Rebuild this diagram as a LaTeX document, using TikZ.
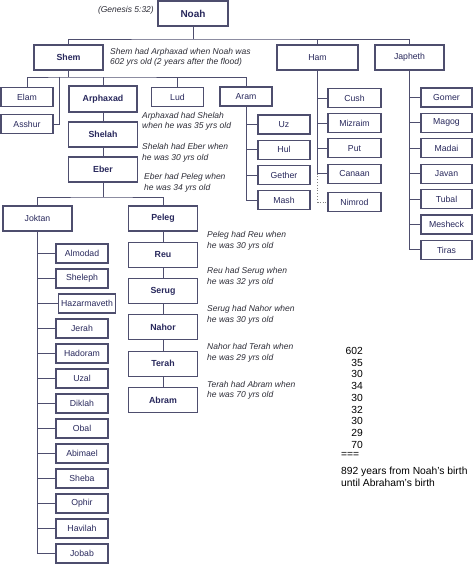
\documentclass[tikz,border=0pt]{standalone}
\usepackage{fontspec}
\setmainfont{Liberation Sans}
\usetikzlibrary{positioning}
\definecolor{edgec}{RGB}{78,78,110}
\definecolor{namec}{RGB}{40,40,92}
\definecolor{notec}{RGB}{45,45,55}

\begin{document}
\begin{tikzpicture}[
    x=1pt, y=1pt,
    node distance=11.3pt and 9pt,
    box/.style={draw=edgec, line width=1.1pt, fill=white, rectangle, outer sep=0pt, inner xsep=2pt, inner ysep=0pt, text=namec, font=\fontsize{8.7}{10}\selectfont},
    heir/.style={box, minimum width=69pt, minimum height=25pt, font=\bfseries\fontsize{8.8}{10}\selectfont},
    son/.style={box, minimum width=69pt, minimum height=25pt},
    kid/.style={box, minimum width=52pt, minimum height=19pt},
    link/.style={draw=edgec, line width=0.9pt},
    note/.style={anchor=west, align=left, inner sep=1pt, text=notec, font=\itshape\fontsize{8.5}{10.5}\selectfont},
    sum/.style={inner sep=0pt, text=black, font=\fontsize{10.3}{11.75}\selectfont}
]
\useasboundingbox (0,0) rectangle (474,-564);

% Noah and his three sons
\node[heir, minimum width=70pt, font=\bfseries\fontsize{10}{12}\selectfont] (noah) at (193,-13.5) {Noah};
\node[note, anchor=east] (gen) at (155,-10) {(Genesis 5:32)};
\node[heir] (shem) at (68.5,-57.5) {Shem};
\node[son, minimum width=81pt] (ham) at (317.5,-57.5) {Ham};
\node[son] (japheth) at (409.5,-57.5) {Japheth};
\node[note] (shem_n) at (109,-57.5) {Shem had Arphaxad when Noah was\\602 yrs old (2 years after the flood)};
\coordinate (nbar) at (193,-39);
\draw[link] (noah) -- (nbar);
\draw[link] (shem.north) |- (nbar) -| (japheth.north);
\draw[link] (ham) -- (ham.north |- nbar);

% sons of Shem
\node[kid] (elam) at (27,-97) {Elam};
\node[kid] (asshur) at (27,-124) {Asshur};
\node[heir, minimum width=68pt, minimum height=26pt] (arphaxad) at (103,-99) {Arphaxad};
\node[kid] (lud) at (177.5,-97) {Lud};
\node[kid] (aram) at (246,-96.5) {Aram};
\coordinate (sbar) at (68.5,-77);
\coordinate (sfork) at (59,-77);
\draw[link] (shem) -- (sbar);
\draw[link] (elam.north) |- (sbar) -| (aram.north);
\draw[link] (arphaxad) -- (arphaxad.north |- sbar);
\draw[link] (lud) -- (lud.north |- sbar);
\draw[link] (sfork) |- (asshur);

\node[heir, below=10pt of arphaxad] (shelah) {Shelah};
\node[heir, below=10pt of shelah] (eber) {Eber};
\draw[link] (arphaxad) -- (shelah);
\draw[link] (shelah) -- (eber);
\node[note] (arph_n) at (141,-121.5) {Arphaxad had Shelah\\when he was 35 yrs old};
\node[note] (shel_n) at (141,-153) {Shelah had Eber when\\he was 30 yrs old};
\node[note] (eber_n) at (143,-183) {Eber had Peleg when\\he was 34 yrs old};

% sons of Aram
\node[kid] (uz) at (284,-124.5) {Uz};
\node[kid, below=6.3pt of uz] (hul) {Hul};
\node[kid, below=6.3pt of hul] (gether) {Gether};
\node[kid, below=6.3pt of gether] (mash) {Mash};
\draw[link] (aram) |- (uz) (aram) |- (hul) (aram) |- (gether) (aram) |- (mash);

% sons of Ham
\node[kid, minimum width=53pt] (cush) at (354.5,-98) {Cush};
\node[kid, minimum width=53pt, below=6.2pt of cush] (mizraim) {Mizraim};
\node[kid, minimum width=53pt, below=6.2pt of mizraim] (put) {Put};
\node[kid, minimum width=53pt, below=6.2pt of put] (canaan) {Canaan};
\node[kid, minimum width=53pt, below=9.5pt of canaan] (nimrod) {Nimrod};
\draw[link] (ham) |- (cush) (ham) |- (mizraim) (ham) |- (put) (ham) |- (canaan);
\draw[gray, line width=0.8pt, dotted] (ham.south |- canaan.west) |- (nimrod);

% sons of Japheth
\node[kid, minimum width=51pt] (gomer) at (446.5,-97.5) {Gomer};
\node[kid, minimum width=51pt, below=6.4pt of gomer] (magog) {Magog};
\node[kid, minimum width=51pt, below=6.4pt of magog] (madai) {Madai};
\node[kid, minimum width=51pt, below=6.4pt of madai] (javan) {Javan};
\node[kid, minimum width=51pt, below=6.4pt of javan] (tubal) {Tubal};
\node[kid, minimum width=51pt, below=6.4pt of tubal, line width=1.4pt] (mesheck) {Mesheck};
\node[kid, minimum width=51pt, below=6.4pt of mesheck] (tiras) {Tiras};
\draw[link] (japheth) |- (gomer) (japheth) |- (magog) (japheth) |- (madai) (japheth) |- (javan)
      (japheth) |- (tubal) (japheth) |- (mesheck) (japheth) |- (tiras);

% sons of Eber
\node[son] (joktan) at (37.5,-218.5) {Joktan};
\node[heir] (peleg) at (163,-218.5) {Peleg};
\coordinate (ebar) at (103,-197);
\draw[link] (eber) -- (ebar);
\draw[link] (joktan.north) |- (ebar) -| (peleg.north);

% line of Peleg down to Abram
\node[heir, below=of peleg] (reu) {Reu};
\node[heir, below=of reu] (serug) {Serug};
\node[heir, below=of serug] (nahor) {Nahor};
\node[heir, below=of nahor] (terah) {Terah};
\node[heir, below=of terah] (abram) {Abram};
\draw[link] (peleg) -- (reu);
\draw[link] (reu) -- (serug);
\draw[link] (serug) -- (nahor);
\draw[link] (nahor) -- (terah);
\draw[link] (terah) -- (abram);
\node[note] (peleg_n) at (206,-241) {Peleg had Reu when\\he was 30 yrs old};
\node[note] (reu_n) at (206,-277) {Reu had Serug when\\he was 32 yrs old};
\node[note] (serug_n) at (206,-315) {Serug had Nahor when\\he was 30 yrs old};
\node[note] (nahor_n) at (206,-353) {Nahor had Terah when\\he was 29 yrs old};
\node[note] (terah_n) at (206,-390.5) {Terah had Abram when\\he was 70 yrs old};

% sons of Joktan
\node[kid] (almodad) at (82,-253.5) {Almodad};
\node[kid, below=6pt of almodad] (sheleph) {Sheleph};
\node[kid, below=6pt of sheleph, xshift=5pt, inner xsep=3pt] (hazarmaveth) {Hazarmaveth};
\node[kid, below=31pt of sheleph] (jerah) {Jerah};
\node[kid, below=6pt of jerah] (hadoram) {Hadoram};
\node[kid, below=6pt of hadoram] (uzal) {Uzal};
\node[kid, below=6pt of uzal] (diklah) {Diklah};
\node[kid, below=6pt of diklah] (obal) {Obal};
\node[kid, below=6pt of obal] (abimael) {Abimael};
\node[kid, below=6pt of abimael] (sheba) {Sheba};
\node[kid, below=6pt of sheba] (ophir) {Ophir};
\node[kid, below=6pt of ophir] (havilah) {Havilah};
\node[kid, below=6pt of havilah] (jobab) {Jobab};
\draw[link] (joktan) |- (almodad) (joktan) |- (sheleph) (joktan) |- (hazarmaveth)
      (joktan) |- (jerah) (joktan) |- (hadoram) (joktan) |- (uzal) (joktan) |- (diklah)
      (joktan) |- (obal) (joktan) |- (abimael) (joktan) |- (sheba) (joktan) |- (ophir)
      (joktan) |- (havilah) (joktan) |- (jobab);

% years from Noah to Abram
\node[sum, align=right, anchor=north east] (ages) at (363,-347) {602\\35\\30\\34\\30\\32\\30\\29\\70};
\node[sum, anchor=west] (rule) at (341,-455) {===};
\node[sum, align=left, anchor=west] (total) at (341,-477) {892 years from Noah's birth\\until Abraham's birth};
\end{tikzpicture}
\end{document}
